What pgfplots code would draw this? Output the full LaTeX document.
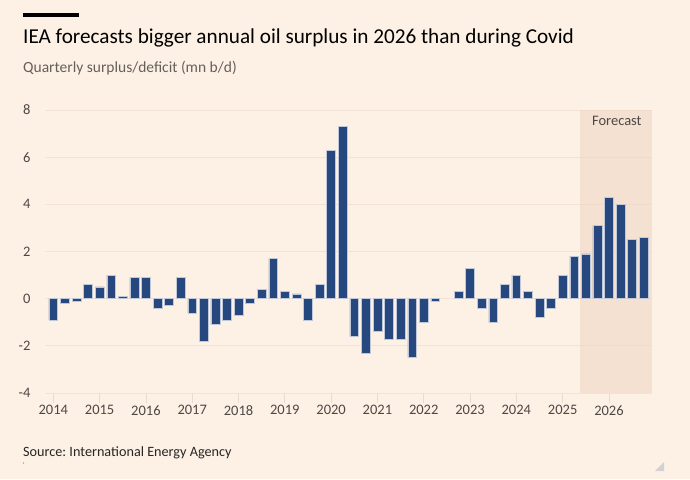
\documentclass[border=0pt]{standalone}
\usepackage{pgfplots}
\pgfplotsset{compat=1.18}
\usepackage{pgfplotstable}
\usepackage{fontspec}
\setmainfont{Carlito}
\frenchspacing
\definecolor{bg}{HTML}{FDF0E4}
\definecolor{barblue}{HTML}{27487E}
\definecolor{fcdark}{HTML}{EFD4C0}
\definecolor{gridc}{HTML}{F2E3D6}
\definecolor{lbl}{HTML}{4D4845}
\definecolor{sub}{HTML}{66605C}
\definecolor{tickc}{HTML}{E8DBD0}

\pgfplotstableread{
x y
2014.00 -0.9
2014.25 -0.2
2014.50 -0.1
2014.75 0.6
2015.00 0.5
2015.25 1.0
2015.50 0.1
2015.75 0.9
2016.00 0.9
2016.25 -0.4
2016.50 -0.3
2016.75 0.9
2017.00 -0.6
2017.25 -1.8
2017.50 -1.1
2017.75 -0.9
2018.00 -0.7
2018.25 -0.2
2018.50 0.4
2018.75 1.7
2019.00 0.3
2019.25 0.2
2019.50 -0.9
2019.75 0.6
2020.00 6.3
2020.25 7.3
2020.50 -1.6
2020.75 -2.3
2021.00 -1.4
2021.25 -1.7
2021.50 -1.7
2021.75 -2.5
2022.00 -1.0
2022.25 -0.1
2022.75 0.3
2023.00 1.3
2023.25 -0.4
2023.50 -1.0
2023.75 0.6
2024.00 1.0
2024.25 0.3
2024.50 -0.8
2024.75 -0.4
2025.00 1.0
2025.25 1.8
2025.50 1.9
2025.75 3.1
2026.00 4.3
2026.25 4.0
2026.50 2.5
2026.75 2.6
}\surplus

\begin{document}
\begin{tikzpicture}
\fill[bg] (0pt,0pt) rectangle (690pt,479pt);
\fill[black] (23pt,462pt) rectangle (79pt,465.5pt);
\node[anchor=base west, inner sep=0, font=\fontsize{21.2}{25}\selectfont, text=black] at (23pt,435.7pt) {IEA forecasts bigger annual oil surplus in 2026 than during Covid};
\node[anchor=base west, inner sep=0, font=\fontsize{15.5}{18}\selectfont, text=sub] at (23pt,406.3pt) {Quarterly surplus/deficit (mn b/d)};
\node[anchor=base west, inner sep=0, font=\fontsize{14.2}{17}\selectfont, text=black!85] at (23pt,23pt) {Source: International Energy Agency};
\fill[black!50] (23.5pt,16pt) circle (0.6pt);
\fill[black!18] (664pt,8pt) -- (664pt,17pt) -- (655pt,8pt) -- cycle;
\begin{axis}[
  at={(45pt,86pt)}, anchor=south west,
  scale only axis, width=607pt, height=283pt,
  xmin=2013.82, xmax=2026.93, ymin=-4, ymax=8,
  axis line style={draw=none},
  ytick={-4,-2,0,2,4,6,8},
  yticklabels={-4,-2,0,2,4,6,8},
  xtick={2014,2015,2016,2017,2018,2019,2020,2021,2022,2023,2024,2025,2026},
  xticklabels={2014,2015,2016,2017,2018,2019,2020,2021,2022,2023,2024,2025,2026},
  ymajorgrids, grid style={draw=gridc, line width=0.8pt},
  major tick length=10pt, tick align=outside,
  xtick pos=bottom, ytick pos=left,
  xtick style={draw=tickc, line width=0.7pt},
  ytick style={draw=none},
  xticklabel style={font=\fontsize{14.5}{17}\selectfont, text=lbl, yshift=1pt},
  yticklabel style={font=\fontsize{14.5}{17}\selectfont, text=lbl, xshift=-1pt},
  clip=false,
]
\fill[fcdark, fill opacity=0.5] (axis cs:2025.375,-4) rectangle (axis cs:2026.93,8);
\addplot[ybar, bar width=0.19, fill=barblue, draw=white!70!barblue, line width=0.5pt] table[x=x, y=y] {\surplus};
\node[font=\fontsize{14.5}{17}\selectfont, text=lbl] at (axis cs:2026.17,7.55) {Forecast};
\end{axis}
\end{tikzpicture}
\end{document}
